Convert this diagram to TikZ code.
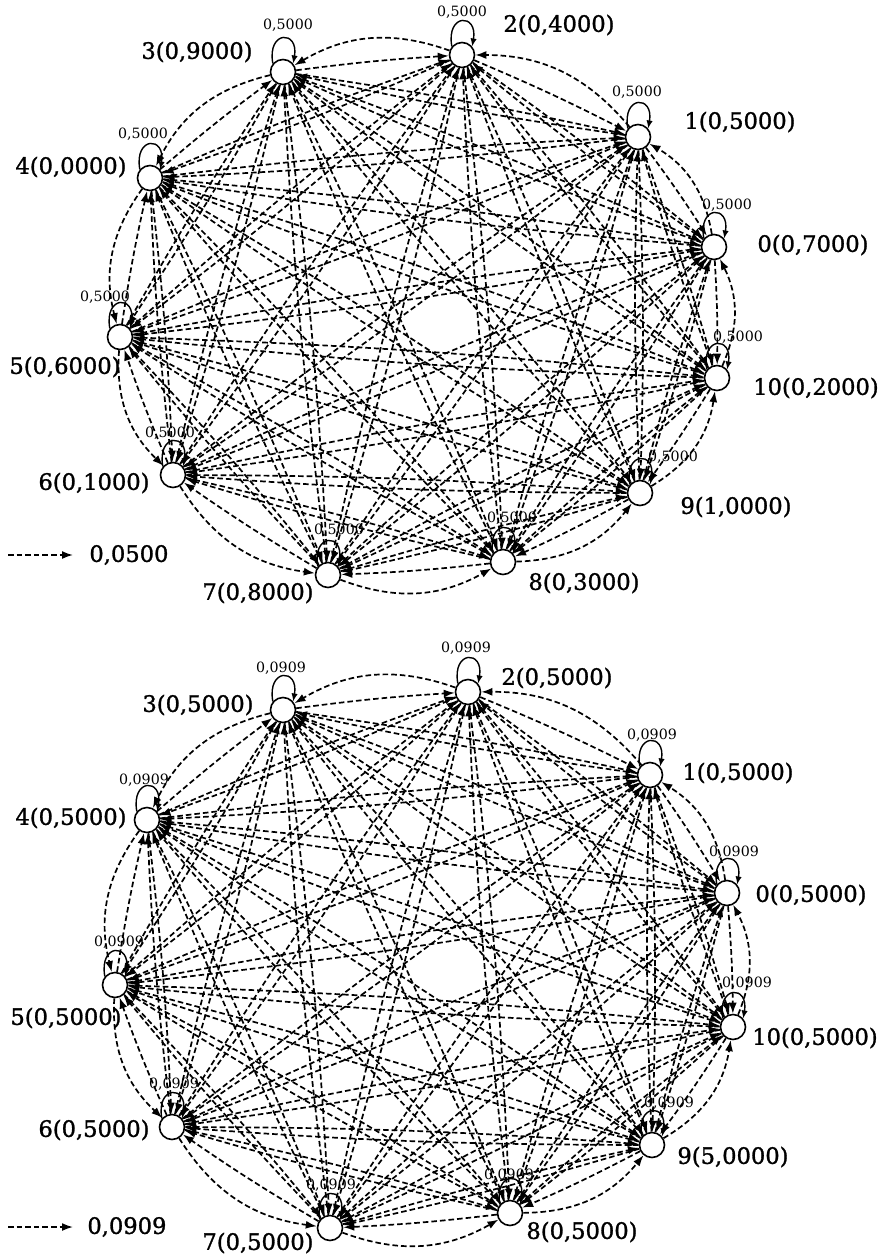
\documentclass[tikz,border=0pt]{standalone}
\usepackage{fontspec}
\setmainfont{DejaVu Serif}
\newfontfamily\lblfont[FakeBold=1.2]{DejaVu Serif}
\usetikzlibrary{arrows.meta}
\begin{document}
\begin{tikzpicture}[x=0.5pt,y=0.5pt,
  vtx/.style={circle,draw,fill=white,line width=0.8pt,minimum size=12.5pt,inner sep=0pt},
  edge/.style={dash pattern=on 2.8pt off 1.5pt, line width=0.85pt, -{Latex[length=5.5pt,width=4pt]}},
  selfloop/.style={line width=0.7pt, -{Latex[length=4pt,width=3.2pt]}},
  big/.style={font=\lblfont\fontsize{11.3}{13}\selectfont, inner sep=0pt},
  small/.style={font=\fontsize{7.1}{8}\selectfont, inner sep=0pt}]
\useasboundingbox (0,0) rectangle (888,-1259);
% ---------- top graph nodes ----------
\foreach \n/\x/\y in {0/714/247, 1/638/137, 2/462/55, 3/283/72, 4/150/178, 5/120/337, 6/173/475, 7/328/575, 8/503/562, 9/640/493, 10/717/378}
  \node[vtx] (t\n) at (\x,-\y) {};
% ---------- bottom graph nodes ----------
\foreach \n/\x/\y in {0/727/893, 1/650/775, 2/468/692, 3/283/710, 4/147/820, 5/115/985, 6/172/1127, 7/330/1228, 8/510/1213, 9/652/1145, 10/733/1027}
  \node[vtx] (b\n) at (\x,-\y) {};
% ---------- edges ----------
\foreach \g in {t,b}{
  \foreach \i in {0,...,10}{
    \pgfmathtruncatemacro\nxt{mod(\i+1,11)}
    \foreach \j in {0,...,10}{
      \ifnum\i=\j\relax\else
        \ifnum\j=\nxt\relax\else
          \draw[edge] (\g\i) to[bend left=2] (\g\j);
        \fi
      \fi
    }
    \draw[edge] (\g\i) to[bend right=25] (\g\nxt);
    \draw[selfloop] (\g\i.140) .. controls +(100:34) and +(80:34) .. (\g\i.40);
  }
}
% ---------- top labels ----------
\node[big] (tl0) at (813,-245) {0(0,7000)};
\node[big] (tl1) at (740,-122) {1(0,5000)};
\node[big] (tl2) at (559,-25) {2(0,4000)};
\node[big] (tl3) at (197,-52) {3(0,9000)};
\node[big] (tl4) at (71,-167) {4(0,0000)};
\node[big] (tl5) at (65,-367) {5(0,6000)};
\node[big] (tl6) at (94,-483) {6(0,1000)};
\node[big] (tl7) at (258,-593) {7(0,8000)};
\node[big] (tl8) at (584,-583) {8(0,3000)};
\node[big] (tl9) at (736,-507) {9(1,0000)};
\node[big] (tl10) at (816,-388) {10(0,2000)};
\foreach \n/\x/\y in {0/727/205, 1/637/92, 2/462/12, 3/288/25, 4/143/134, 5/105/297, 6/170/433, 7/339/530, 8/512/518, 9/673/457, 10/738/337}
  \node[small] (ts\n) at (\x,-\y) {0,5000};
% ---------- bottom labels ----------
\node[big] (bl0) at (811,-895) {0(0,5000)};
\node[big] (bl1) at (738,-773) {1(0,5000)};
\node[big] (bl2) at (557,-678) {2(0,5000)};
\node[big] (bl3) at (198,-705) {3(0,5000)};
\node[big] (bl4) at (71,-818) {4(0,5000)};
\node[big] (bl5) at (66,-1018) {5(0,5000)};
\node[big] (bl6) at (94,-1130) {6(0,5000)};
\node[big] (bl7) at (258,-1243) {7(0,5000)};
\node[big] (bl8) at (582,-1232) {8(0,5000)};
\node[big] (bl9) at (733,-1157) {9(5,0000)};
\node[big] (bl10) at (815,-1038) {10(0,5000)};
\foreach \n/\x/\y in {0/734/852, 1/652/735, 2/466/648, 3/281/668, 4/144/780, 5/119/942, 6/174/1084, 7/331/1185, 8/509/1175, 9/669/1103, 10/747/983}
  \node[small] (bs\n) at (\x,-\y) {0,0909};
% ---------- legends ----------
\coordinate (tla) at (8,-555);
\coordinate (tlb) at (73,-555);
\draw[edge] (tla) -- (tlb);
\node[big,anchor=west] (tleg) at (89,-555) {0,0500};
\coordinate (bla) at (8,-1227);
\coordinate (blb) at (73,-1227);
\draw[edge] (bla) -- (blb);
\node[big,anchor=west] (bleg) at (87,-1227) {0,0909};
\end{tikzpicture}
\end{document}
